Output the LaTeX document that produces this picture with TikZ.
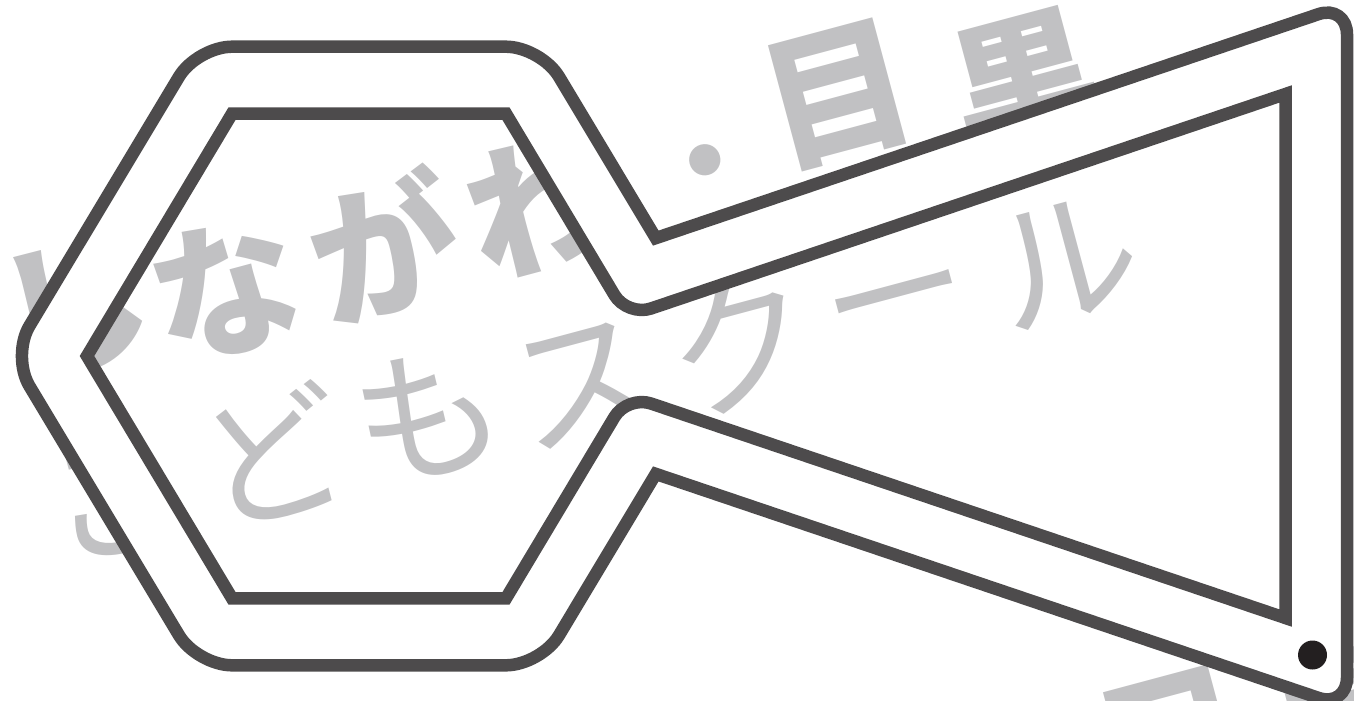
\documentclass[tikz,border=0pt]{standalone}
\usepackage{fontspec}
\newfontfamily\jp{Noto Sans CJK JP}
\definecolor{keyline}{RGB}{77,75,76}
\definecolor{wmgray}{RGB}{193,193,195}
\definecolor{dotblack}{RGB}{35,31,32}
\begin{document}
\begin{tikzpicture}[x=.02cm,y=-.02cm,
	wmbold/.style={text=wmgray,inner sep=0,rotate=15,font=\jp\bfseries\fontsize{84}{84}\selectfont},
	wmthin/.style={text=wmgray,inner sep=0,rotate=15,font=\jp\fontsize{84}{84}\selectfont},
	keystroke/.style={draw=keyline,line width=.25cm}]
\clip (0,0) rectangle (1354,700);
% watermark
\foreach \ch/\px/\py [count=\i] in {し/74/308,な/225/290,が/383/245,わ/540/205,目/838/95,黒/1025/85}
	\node[wmbold] (top\i) at (\px,\py) {\ch};
\node[wmthin] (dot) at (710,180) {・};
\foreach \ch/\px/\py [count=\i] in {こ/118/500,ど/272/455,も/428/415,ス/585/385,ク/740/345,ー/900/316,ル/1065/262}
	\node[wmthin] (mid\i) at (\px,\py) {\ch};
\foreach \ch/\px/\py [count=\i] in {目/1173/742,黒/1345/720}
	\node[wmbold] (low\i) at (\px,\py) {\ch};
% outer line
\coordinate (O1) at (197,46.7);
\coordinate (O2) at (541,46.7);
\coordinate (O3) at (655.8,238.1);
\coordinate (O4) at (1347,4.5);
\coordinate (O5) at (1347,707.5);
\coordinate (O6) at (655.8,473.9);
\coordinate (O7) at (541,665.3);
\coordinate (O8) at (197,665.3);
\coordinate (O9) at (11.4,356);
\coordinate (M34) at (1001.4,121.3);
% inner line
\coordinate (I1) at (232,113.7);
\coordinate (I2) at (506,113.7);
\coordinate (I3) at (627.3,316.5);
\coordinate (I4) at (1285.5,94);
\coordinate (I5) at (1285.5,618);
\coordinate (I6) at (627.3,395.5);
\coordinate (I7) at (506,598.3);
\coordinate (I8) at (232,598.3);
\coordinate (I9) at (87,356);
\coordinate (M12) at (369,113.7);
\def\keyouter{(M34) [rounded corners=.6cm] -- (O4) -- (O5) [sharp corners] -- (O6) [rounded corners=.7cm] -- (O7) -- (O8) -- (O9) -- (O1) -- (O2) [sharp corners] -- (O3) -- cycle}
\def\keyinner{(M12) -- (I2) [rounded corners=.5cm] -- (I3) [sharp corners] -- (I4) -- (I5) [rounded corners=.5cm] -- (I6) [sharp corners] -- (I7) -- (I8) -- (I9) -- (I1) -- cycle}
\fill[white,even odd rule] \keyouter \keyinner;
\draw[keystroke] \keyouter;
\draw[keystroke] \keyinner;
\fill[dotblack] (1312.5,655) circle (.29cm); %hole
\end{tikzpicture}
\end{document}
